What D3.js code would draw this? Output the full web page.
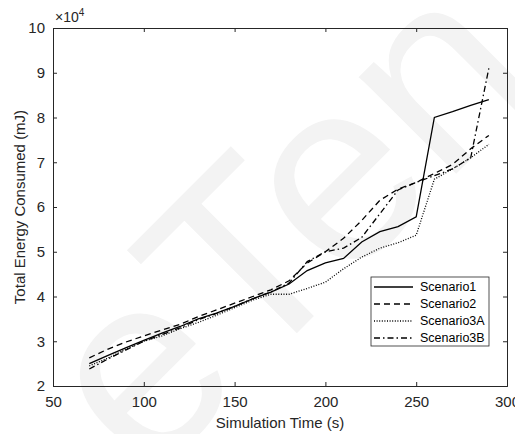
<!DOCTYPE html>
<html>
<head>
<meta charset="utf-8">
<script src="https://cdn.jsdelivr.net/npm/d3@7"></script>
<style>
  body { margin: 0; background: #fff; }
  svg { display: block; font-family: "Liberation Sans", Arial, sans-serif; }
</style>
</head>
<body>
<svg id="main-svg" width="515" height="434"></svg>
<script>
// simulation time (s)
const times = [70, 80, 90, 100, 110, 120, 130, 140, 150, 160, 170, 180, 190, 200, 210, 220, 230, 240, 250, 260, 270, 280, 290];

// energy in units of 1e4 mJ
const scenario1 = [2.50, 2.68, 2.85, 3.02, 3.18, 3.33, 3.50, 3.63, 3.78, 3.95, 4.10, 4.28, 4.58, 4.75, 4.85, 5.22, 5.45, 5.56, 5.78, 8.00, 8.13, 8.27, 8.40];
const scenario2 = [2.63, 2.82, 2.98, 3.12, 3.25, 3.38, 3.55, 3.70, 3.85, 4.00, 4.15, 4.35, 4.75, 5.00, 5.30, 5.70, 6.15, 6.40, 6.55, 6.75, 6.95, 7.30, 7.60];
const scenario3A = [2.45, 2.62, 2.82, 3.00, 3.12, 3.28, 3.42, 3.58, 3.75, 3.92, 4.05, 4.05, 4.18, 4.32, 4.62, 4.88, 5.08, 5.20, 5.37, 6.62, 6.85, 7.10, 7.40];
const scenario3B = [2.38, 2.60, 2.80, 3.00, 3.15, 3.30, 3.48, 3.62, 3.78, 3.95, 4.10, 4.30, 4.78, 5.00, 5.08, 5.32, 5.85, 6.38, 6.55, 6.70, 6.85, 7.10, 9.10];

const seriesNames = ["Scenario1", "Scenario2", "Scenario3A", "Scenario3B"];
const xTicks = [50, 100, 150, 200, 250, 300];
const yTicks = [2, 3, 4, 5, 6, 7, 8, 9, 10];

const width = 515, height = 434;
const margin = {top: 28, right: 8, bottom: 48, left: 53};
const dashes = ["none", "6,4", "1,1.6", "6,3,1.5,3"];
const axisColor = "#262626";

const svg = d3.select('#main-svg');

// faint watermark behind the figure
svg.append("text")
  .attr("transform", "translate(147,483) rotate(-45)")
  .attr("font-size", 260)
  .attr("font-family", "Liberation Sans, Arial, sans-serif")
  .attr("fill", "#f3f3f3")
  .text("eTen");

const x = d3.scaleLinear().domain([50, 300]).range([margin.left, width - margin.right]);
const y = d3.scaleLinear().domain([2, 10]).range([height - margin.bottom, margin.top]);

const data = [scenario1, scenario2, scenario3A, scenario3B].map((vals, i) => ({
  name: seriesNames[i],
  dash: dashes[i],
  values: vals.map((v, j) => ({t: times[j], v: v}))
}));

const line = d3.line().x(d => x(d.t)).y(d => y(d.v));

svg.append("g")
  .selectAll("path")
  .data(data)
  .join("path")
  .attr("fill", "none")
  .attr("stroke", "#000")
  .attr("stroke-width", 1.3)
  .attr("stroke-dasharray", d => d.dash)
  .attr("d", d => line(d.values));

// axes, ticks pointing inwards on all four sides
const styleAxis = g => {
  g.select(".domain").attr("stroke", axisColor);
  g.selectAll(".tick line").attr("stroke", axisColor);
  g.selectAll(".tick text").attr("fill", axisColor).attr("font-size", 15)
    .attr("font-family", "Liberation Sans, Arial, sans-serif");
};

svg.append("g")
  .attr("transform", `translate(0,${height - margin.bottom})`)
  .call(d3.axisBottom(x).tickValues(xTicks).tickSize(-4).tickPadding(10).tickFormat(d3.format("d")))
  .call(styleAxis);

svg.append("g")
  .attr("transform", `translate(0,${margin.top})`)
  .call(d3.axisTop(x).tickValues(xTicks).tickSize(-4).tickFormat(""))
  .call(styleAxis);

svg.append("g")
  .attr("transform", `translate(${margin.left},0)`)
  .call(d3.axisLeft(y).tickValues(yTicks).tickSize(-4).tickPadding(8).tickFormat(d3.format("d")))
  .call(styleAxis);

svg.append("g")
  .attr("transform", `translate(${width - margin.right},0)`)
  .call(d3.axisRight(y).tickValues(yTicks).tickSize(-4).tickFormat(""))
  .call(styleAxis);

// exponent label
const expo = svg.append("text")
  .attr("x", margin.left + 2)
  .attr("y", 22)
  .attr("font-size", 14)
  .attr("fill", axisColor);
expo.append("tspan").text("\u00d710");
expo.append("tspan").attr("dy", -6).attr("font-size", 10).text("4");

// axis labels
svg.append("text")
  .attr("x", (margin.left + width - margin.right) / 2)
  .attr("y", 428)
  .attr("text-anchor", "middle")
  .attr("font-size", 15)
  .attr("fill", axisColor)
  .text("Simulation Time (s)");

svg.append("text")
  .attr("transform", `translate(25,${(margin.top + height - margin.bottom) / 2}) rotate(-90)`)
  .attr("text-anchor", "middle")
  .attr("font-size", 15)
  .attr("fill", axisColor)
  .text("Total Energy Consumed (mJ)");

// legend
const legend = svg.append("g").attr("transform", "translate(371,277)");
legend.append("rect")
  .attr("width", 118).attr("height", 69)
  .attr("fill", "#fff").attr("stroke", axisColor).attr("stroke-width", 0.8);

const item = legend.selectAll("g.item")
  .data(data)
  .join("g")
  .attr("class", "item")
  .attr("transform", (d, i) => `translate(0,${10 + i * 17})`);

item.append("line")
  .attr("x1", 3).attr("x2", 42)
  .attr("stroke", "#000").attr("stroke-width", 1.3)
  .attr("stroke-dasharray", d => d.dash);

item.append("text")
  .attr("x", 49).attr("dy", "0.35em")
  .attr("font-size", 12.5)
  .attr("fill", "#000")
  .text(d => d.name);
</script>
</body>
</html>
